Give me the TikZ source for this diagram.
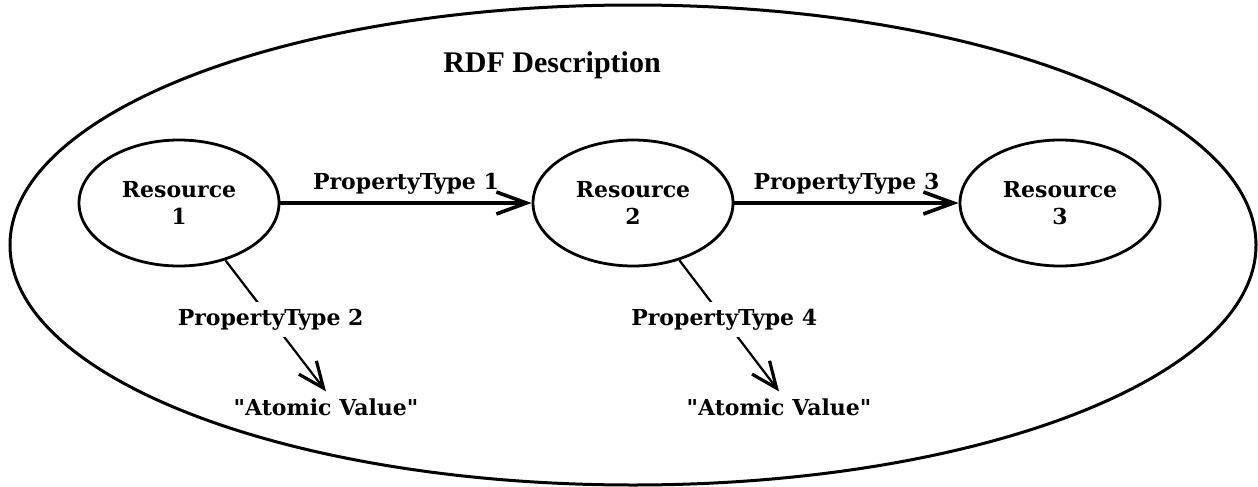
\documentclass[tikz,border=0pt]{standalone}
\usepackage{fontspec}
\setmainfont{DejaVu Serif}
\newfontfamily\titlefont{Liberation Serif}
\usetikzlibrary{shapes.geometric, arrows.meta}
\definecolor{fragmentblue}{RGB}{31, 78, 121}

\begin{document}
\begin{tikzpicture}[x = 0.5pt, y = -0.5pt,
            resource/.style = {draw, ellipse, line width = 1.4pt, minimum width = 100pt, minimum height = 63pt, inner sep = 0pt, align = center, font = \fontsize{11}{13.5}\selectfont\bfseries},
            property/.style = {font = \fontsize{11}{13.5}\selectfont\bfseries},
            relation/.style = {line width = 1.8pt, arrows = {-Straight Barb[length=15pt,width=11pt]}},
            valuelink/.style = {line width = 1.1pt, arrows = {-Straight Barb[length=13pt,width=11pt,line width=1.6pt]}}]
            \useasboundingbox (0, 0) rectangle (1258, 487);
            \coordinate (description_centre) at (633, 245);
            
            \draw[black, line width = 1.5pt] (description_centre) ellipse [x radius = 623, y radius = 240];
            \node[anchor = base, font = \titlefont\fontsize{15}{18}\selectfont\bfseries] (title) at (552, 72) {RDF Description};
            \node[anchor = base west, inner sep = 0pt, text = fragmentblue, font = \titlefont\fontsize{13}{15}\selectfont] (page_fragment) at (1025, -7) {p};
            
            \node[resource] (resource_1) at (179, 203) {Resource\\1};
            \node[resource] (resource_2) at (633, 203) {Resource\\2};
            \node[resource] (resource_3) at (1060, 203) {Resource\\3};
            
            \node[property] (value_1) at (326, 407) {\textquotedbl Atomic Value\textquotedbl};
            \node[property] (value_2) at (779, 407) {\textquotedbl Atomic Value\textquotedbl};
            
            \draw[relation] (resource_1) -- node[property, above] (property_1) {PropertyType 1} (resource_2);
            \draw[relation] (resource_2) -- node[property, above] (property_3) {PropertyType 3} (resource_3);
            \draw[valuelink] (resource_1.-51) -- node[property, fill = white, pos = 0.45] (property_2) {PropertyType 2} (value_1.north);
            \draw[valuelink] (resource_2.-51) -- node[property, fill = white, pos = 0.45] (property_4) {PropertyType 4} (value_2.north);
\end{tikzpicture}
\end{document}
